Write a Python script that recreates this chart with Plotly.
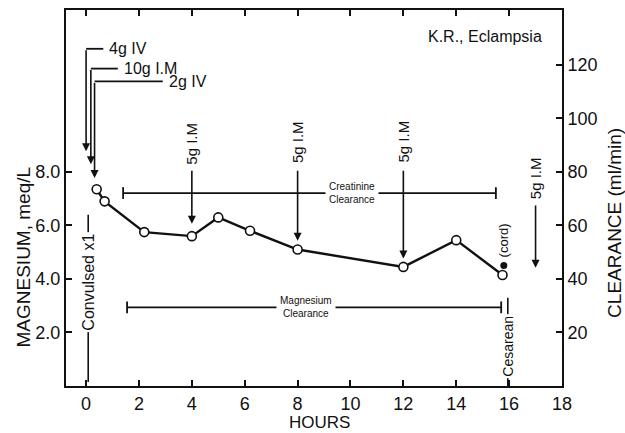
import plotly.graph_objects as go

# ---- data ----
hours = [0.4, 0.7, 2.2, 4.0, 5.0, 6.2, 8.0, 12.0, 14.0, 15.75]
magnesium = [7.35, 6.9, 5.75, 5.6, 6.3, 5.8, 5.1, 4.45, 5.45, 4.15]
cord_hour = [15.8]
cord_mg = [4.5]

x_ticks = [0, 2, 4, 6, 8, 10, 12, 14, 16, 18]
y_ticks = [2, 4, 6, 8]
y_tick_labels = ["2.0", "4.0", "6.0", "8.0"]
y2_ticks = [20, 40, 60, 80, 100, 120]

# initial doses: label, hour of arrow, top of bracket, arrow tip, end of leader
dose_labels = ["4g IV", "10g I.M", "2g IV"]
dose_hours = [0.0, 0.18, 0.32]
dose_tops = [12.6, 11.86, 11.38]
dose_tips = [8.77, 8.29, 7.77]
dose_leader_end = [0.65, 1.2, 2.9]

# later 5g I.M doses: hour, text centre level, line top, arrow tip
im_hours = [4.0, 8.0, 12.0, 17.0]
im_text_y = [9.05, 9.1, 9.15, 7.75]
im_line_top = [8.1, 8.1, 8.1, 6.8]
im_tips = [6.06, 5.43, 4.76, 4.42]

# clearance bars: level, start, end, label hour
bar_names = ["Creatinine<br>Clearance", "Magnesium<br>Clearance"]
bar_levels = [7.21, 2.94]
bar_start = [1.4, 1.55]
bar_end = [15.5, 15.7]
bar_label_x = [10.05, 8.3]

convulsed_hour = 0.08
convulsed_span = [0.15, 6.4]
cesarean_hour = 15.95
cesarean_span = [0.0, 3.3]

FONT = "Liberation Sans"
BLACK = "#111111"

fig = go.Figure()

# convulsion and cesarean marker lines
fig.add_trace(go.Scatter(x=[convulsed_hour, convulsed_hour], y=convulsed_span, mode="lines",
                         line=dict(color=BLACK, width=1.6), showlegend=False, hoverinfo="skip"))
fig.add_trace(go.Scatter(x=[cesarean_hour, cesarean_hour], y=cesarean_span, mode="lines",
                         line=dict(color=BLACK, width=1.6), showlegend=False, hoverinfo="skip"))

# clearance bars
for lvl, s, e in zip(bar_levels, bar_start, bar_end):
    cap = 0.22
    fig.add_trace(go.Scatter(
        x=[s, s, None, s, e, None, e, e],
        y=[lvl - cap, lvl + cap, None, lvl, lvl, None, lvl - cap, lvl + cap],
        mode="lines", line=dict(color=BLACK, width=1.8), showlegend=False, hoverinfo="skip"))

# dose leader lines (horizontal parts)
for h, top, end in zip(dose_hours, dose_tops, dose_leader_end):
    fig.add_trace(go.Scatter(x=[h, end], y=[top, top], mode="lines",
                             line=dict(color=BLACK, width=1.8), showlegend=False, hoverinfo="skip"))

# main magnesium series
fig.add_trace(go.Scatter(x=hours, y=magnesium, mode="lines+markers",
                         line=dict(color=BLACK, width=2.4),
                         marker=dict(symbol="circle", size=9, color="white",
                                     line=dict(color=BLACK, width=1.6)),
                         showlegend=False))
fig.add_trace(go.Scatter(x=cord_hour, y=cord_mg, mode="markers",
                         marker=dict(symbol="circle", size=7, color=BLACK),
                         showlegend=False))

# invisible trace to activate secondary axis
fig.add_trace(go.Scatter(x=[None], y=[None], yaxis="y2", showlegend=False))

ann = []
# dose arrows and labels
for lab, h, top, tip, end in zip(dose_labels, dose_hours, dose_tops, dose_tips, dose_leader_end):
    ann.append(dict(x=h, y=tip, ax=h, ay=top, xref="x", yref="y", axref="x", ayref="y",
                    text="", showarrow=True, arrowhead=2, arrowsize=1, arrowwidth=1.6,
                    arrowcolor=BLACK, standoff=0, startstandoff=0))
    ann.append(dict(x=end, y=top, xref="x", yref="y", text=lab, showarrow=False,
                    xanchor="left", yanchor="middle", xshift=4,
                    font=dict(family=FONT, size=16, color=BLACK)))

# 5g I.M arrows
for h, ty, lt, tip in zip(im_hours, im_text_y, im_line_top, im_tips):
    ann.append(dict(x=h, y=tip, ax=h, ay=lt, xref="x", yref="y", axref="x", ayref="y",
                    text="", showarrow=True, arrowhead=2, arrowsize=1, arrowwidth=1.6,
                    arrowcolor=BLACK, standoff=0, startstandoff=0))
    ann.append(dict(x=h, y=ty, xref="x", yref="y", text="5g I.M", textangle=-90,
                    xanchor="center", yanchor="middle",
                    showarrow=False, font=dict(family=FONT, size=15, color=BLACK)))

# clearance labels
for name, lvl, lx in zip(bar_names, bar_levels, bar_label_x):
    ann.append(dict(x=lx, y=lvl, xref="x", yref="y", text=name, showarrow=False,
                    xanchor="center", yanchor="middle", bgcolor="white", borderpad=3,
                    font=dict(family=FONT, size=10, color=BLACK)))

# vertical event labels
ann.append(dict(x=convulsed_hour, y=3.87, xref="x", yref="y", text="Convulsed x1",
                textangle=-90, showarrow=False, bgcolor="white", borderpad=1,
                xanchor="center", yanchor="middle",
                font=dict(family=FONT, size=16, color=BLACK)))
ann.append(dict(x=cesarean_hour, y=1.5, xref="x", yref="y", text="Cesarean",
                textangle=-90, showarrow=False, bgcolor="white", borderpad=1,
                xanchor="center", yanchor="middle",
                font=dict(family=FONT, size=14, color=BLACK)))
ann.append(dict(x=cord_hour[0], y=cord_mg[0], xref="x", yref="y", text="(cord)",
                textangle=-90, showarrow=False, xanchor="center", yanchor="bottom", yshift=6,
                font=dict(family=FONT, size=13, color=BLACK)))

# titles
ann.append(dict(x=0.845, y=0.929, xref="paper", yref="paper", text="K.R., Eclampsia",
                xanchor="center", yanchor="middle",
                showarrow=False, font=dict(family=FONT, size=16, color=BLACK)))
ann.append(dict(x=-0.085, y=0.344, xref="paper", yref="paper", text="MAGNESIUM, meq/L",
                xanchor="center", yanchor="middle",
                textangle=-90, showarrow=False, font=dict(family=FONT, size=19, color=BLACK)))
ann.append(dict(x=1.107, y=0.434, xref="paper", yref="paper", text="CLEARANCE (ml/min)",
                xanchor="center", yanchor="middle",
                textangle=-90, showarrow=False, font=dict(family=FONT, size=19, color=BLACK)))
ann.append(dict(x=0.512, y=-0.1243, xref="paper", yref="paper", text="HOURS",
                xanchor="center", yanchor="bottom", borderpad=0,
                showarrow=False, font=dict(family=FONT, size=17, color=BLACK)))

axis_common = dict(showgrid=False, zeroline=False, showline=True, linecolor=BLACK, linewidth=2,
                   ticks="inside", ticklen=6, tickwidth=2, tickcolor=BLACK,
                   tickfont=dict(family=FONT, size=18, color=BLACK))

fig.update_layout(
    width=625, height=433,
    margin=dict(l=66, r=63, t=8, b=47),
    paper_bgcolor="white", plot_bgcolor="white",
    showlegend=False,
    xaxis=dict(range=[-0.76, 18], tickvals=x_ticks, ticktext=[str(v) for v in x_ticks],
               mirror="ticks", **axis_common),
    yaxis=dict(range=[0, 14.05], tickvals=y_ticks, ticktext=y_tick_labels, **axis_common),
    yaxis2=dict(range=[0, 140.5], tickvals=y2_ticks, overlaying="y", side="right",
                **axis_common),
    annotations=ann,
)

fig.write_html("out.html", config={"displayModeBar": False},
               post_script="document.body.style.margin='0px';document.body.style.overflow='hidden';")
